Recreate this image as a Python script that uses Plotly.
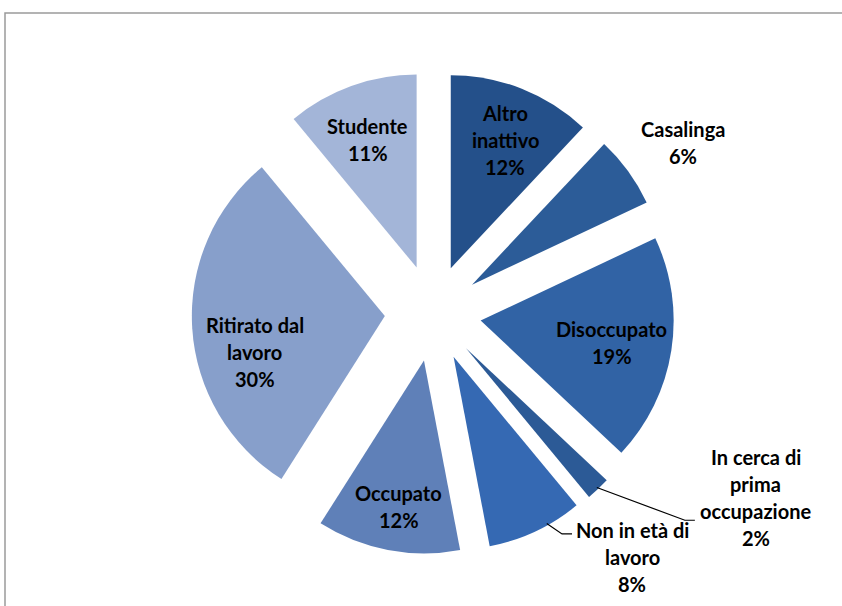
import math
import plotly.graph_objects as go

# ---- data ----
categories = ["Altro inattivo", "Casalinga", "Disoccupato", "In cerca di prima occupazione",
              "Non in età di lavoro", "Occupato", "Ritirato dal lavoro", "Studente"]
values = [12, 6, 19, 2, 8, 12, 30, 11]
label_lines = [["Altro", "inattivo"], ["Casalinga"], ["Disoccupato"],
               ["In cerca di", "prima", "occupazione"], ["Non in età di", "lavoro"],
               ["Occupato"], ["Ritirato dal", "lavoro"], ["Studente"]]

# ---- style ----
colors = ["#24508a", "#2c5c98", "#3163a5", "#2c5a96", "#3569b3", "#5f80b8", "#879fcb", "#a3b5d8"]
W, H = 842, 606
PULL = 0.25
CX, CY = 433, 313          # pie centre in px
R = 193                     # pie radius in px
HALF = R * (1 + PULL)
FONT = dict(family="Lato, 'Open Sans', sans-serif", size=20, color="black")
LINE_H = 27

# label placement: (radial factor from slice apex, angle offset deg)
placement = {
    0: (0.72, 1.5), 1: (1.32, 2), 2: (0.69, 0.5),
    3: (1.69, -19.5), 4: (1.39, -16.5), 5: (0.77, -1),
    6: (0.70, -12), 7: (0.71, -1),
}

fig = go.Figure(go.Pie(
    labels=categories, values=values, sort=False, direction="clockwise", rotation=0,
    pull=[PULL] * len(values), marker=dict(colors=colors, line=dict(width=0)),
    textinfo="none", hoverinfo="label+percent", showlegend=False,
    domain=dict(x=[(CX - HALF - 10) / W, (CX + HALF + 10) / W],
                y=[1 - (CY + HALF) / H, 1 - (CY - HALF) / H]),
))

total = sum(values)
annotations = []
shapes = [dict(type="rect", xref="paper", yref="paper", x0=5 / W, x1=1.02, y0=-0.02, y1=1 - 13 / H,
               line=dict(color="#9a9a9a", width=1.5), layer="below")]
cum = 0
for i, v in enumerate(values):
    pct = round(100 * v / total)
    mid = (cum + v / 2) / total * 360
    cum += v
    ax = CX + PULL * R * math.sin(math.radians(mid))
    ay = CY - PULL * R * math.cos(math.radians(mid))
    fr, off = placement[i]
    ang = math.radians(mid + off)
    lx = ax + fr * R * math.sin(ang)
    ly = ay - fr * R * math.cos(ang)
    lines = label_lines[i] + [f"{pct}%"]
    n = len(lines)
    for k, t in enumerate(lines):
        yy = ly + (k - (n - 1) / 2) * LINE_H
        annotations.append(dict(x=lx / W, y=1 - yy / H, xref="paper", yref="paper", text=f"<b>{t}</b>",
                                showarrow=False, font=FONT, xanchor="center", yanchor="middle"))
    if i in (3, 4):
        # leader line: slice rim -> elbow -> label
        sa = math.radians(mid - (0 if i == 3 else 4))
        sx = ax + 0.99 * R * math.sin(sa)
        sy = ay - 0.99 * R * math.cos(sa)
        if i == 3:
            ey = ly + (2 - (n - 1) / 2) * LINE_H + 9
            ex = lx - 61
        else:
            ey = ly + (0 - (n - 1) / 2) * LINE_H + 4
            ex = lx - 60
        path = f"M {sx/W},{1-sy/H} L {(ex-10)/W},{1-ey/H} L {ex/W},{1-ey/H}"
        shapes.append(dict(type="path", xref="paper", yref="paper", path=path,
                           line=dict(color="black", width=1.2)))

fig.update_layout(width=W, height=H, margin=dict(l=0, r=0, t=0, b=0),
                  paper_bgcolor="white", plot_bgcolor="white",
                  annotations=annotations, shapes=shapes)
fig.write_html("out.html", config={"displayModeBar": False},
               post_script="document.body.style.margin='0';document.body.style.overflow='hidden';")
